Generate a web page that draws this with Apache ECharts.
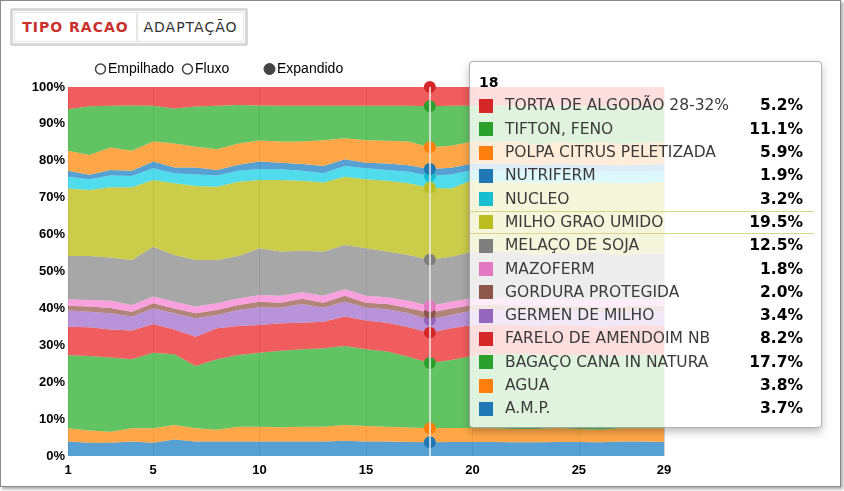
<!DOCTYPE html>
<html><head><meta charset="utf-8">
<script src="https://cdn.jsdelivr.net/npm/echarts@6/dist/echarts.min.js"></script>
<style>
html,body{margin:0;padding:0;background:#fff;width:844px;height:491px;overflow:hidden}
#frame{position:absolute;left:0;top:0;width:839px;height:485px;border:1px solid #8a8a8a;box-shadow:2px 2px 3px rgba(0,0,0,0.35);background:#fff}
#chart{position:absolute;left:0;top:0;width:844px;height:491px}
#btns{position:absolute;left:10px;top:8px;width:238px;height:38px;box-sizing:border-box;border:3px solid #d9d9d9;border-radius:2px;background:#fff;display:flex;padding:1px;font-family:'DejaVu Sans',sans-serif;font-size:14px;z-index:5}
#btns div{box-sizing:border-box;height:30px;line-height:28px;text-align:center;border:1px solid #e6e6e6;letter-spacing:1px}
#b1{width:123px;color:#c9302c;font-weight:bold}
#b2{width:107px;color:#333}
</style></head>
<body>
<div id="frame"></div>
<div id="chart"></div>
<div id="btns"><div id="b1">TIPO RACAO</div><div id="b2">ADAPTAÇÃO</div></div>
<script>
const days = ['1','2','3','4','5','6','7','8','9','10','11','12','13','14','15','16','17','18','19','20','21','22','23','24','25','26','27','28','29'];
const xTickLabels = ['1','5','10','15','20','25','29'];

const AMP       = [3.9,3.6,3.6,3.9,3.6,4.5,3.9,3.9,3.9,3.9,3.9,3.9,3.9,4.1,3.9,3.9,3.8,3.7,3.8,3.8,3.8,3.7,3.7,3.8,3.8,3.7,3.9,3.9,3.8];
const AGUA      = [3.6,3.3,3.0,3.6,3.9,3.9,3.6,3.2,4.0,4.0,3.9,4.0,4.0,4.3,4.2,4.0,3.9,3.8,3.8,3.8,3.7,3.6,3.6,3.8,3.5,3.4,3.6,3.6,3.7];
const BAGACO    = [19.8,20.2,20.1,18.7,20.5,19.2,16.9,19.1,19.5,20.1,20.7,21.0,21.3,21.4,20.8,20.4,19.2,17.7,18.4,19.5,20.0,20.4,20.2,19.8,20.1,20.2,19.7,20.0,19.9];
const FARELO    = [7.7,7.8,7.6,7.8,7.8,6.7,7.9,8.4,7.8,7.5,7.5,7.2,7.2,8.0,7.8,7.8,8.0,8.2,8.6,8.4,8.0,7.8,7.6,8.2,7.9,7.7,8.1,8.0,7.8];
const GERMEN    = [4.4,4.2,4.4,3.8,4.2,4.4,5.0,3.6,4.4,4.8,4.2,5.1,3.8,4.0,3.5,3.7,3.8,3.4,3.6,3.9,4.0,3.9,4.1,3.8,3.9,4.0,3.8,3.9,3.9];
const GORDURA   = [1.3,1.4,1.4,1.3,1.4,1.3,1.4,1.4,1.3,1.5,1.3,1.4,1.3,1.6,1.3,1.4,1.4,2.0,1.8,1.5,1.4,1.4,1.5,1.4,1.5,1.4,1.5,1.4,1.5];
const MAZOFERM  = [1.8,1.8,2.0,1.8,1.8,1.8,1.8,1.8,1.8,1.8,1.9,1.8,1.9,1.8,1.9,1.8,2.0,1.8,1.8,1.8,1.8,1.9,1.8,1.7,1.8,1.9,1.8,1.7,1.8];
const MELACO    = [11.7,11.9,11.7,12.2,13.5,12.7,12.6,11.7,11.5,12.7,12.0,11.2,12.0,12.0,12.9,12.4,12.4,12.5,12.2,12.7,12.5,12.8,12.0,12.6,12.3,12.9,12.1,12.4,12.5];
const MILHO     = [18.3,17.9,19.0,19.7,18.1,19.4,20.1,19.9,20.1,18.5,19.4,19.0,18.7,18.5,18.7,19.2,19.4,19.5,18.5,19.4,19.2,18.8,19.6,19.0,19.3,18.9,19.5,19.1,19.4];
const NUCLEO    = [3.2,2.9,3.2,3.1,3.2,2.7,3.1,3.0,3.0,3.0,2.9,2.7,2.5,2.9,3.0,2.9,3.1,3.2,3.8,2.7,3.0,3.1,2.9,3.2,3.0,3.1,3.0,3.1,3.0];
const NUTRIFERM = [1.6,1.2,1.5,1.4,1.8,1.6,1.9,1.5,1.6,2.0,1.8,1.8,2.0,1.8,1.5,1.8,1.8,1.9,1.8,1.8,1.8,1.7,1.9,1.8,1.9,1.7,1.8,1.9,1.8];
const POLPA     = [5.4,5.4,6.1,5.4,5.4,6.5,5.6,5.6,5.8,5.7,5.7,6.1,7.0,5.7,6.1,6.1,6.4,5.9,6.0,5.9,5.8,6.2,5.6,6.0,5.7,6.1,5.8,5.9,6.0];
const TIFTON    = [11.3,13.2,11.3,12.3,9.7,9.5,10.9,11.8,10.4,9.5,9.7,9.7,9.3,8.8,9.3,9.5,9.7,11.1,10.8,9.7,10.0,9.6,10.3,9.9,10.2,9.8,10.4,10.0,9.9];
const TORTA     = [6.0,5.2,5.1,5.0,5.1,5.8,5.3,5.1,4.9,5.0,5.1,5.1,5.1,5.1,5.1,5.1,5.1,5.2,5.1,5.1,5.0,5.1,5.2,5.0,5.1,5.2,5.0,5.1,5.0];

const seriesNames = ['A.M.P.','AGUA','BAGAÇO CANA IN NATURA','FARELO DE AMENDOIM NB','GERMEN DE MILHO','GORDURA PROTEGIDA','MAZOFERM','MELAÇO DE SOJA','MILHO GRAO UMIDO','NUCLEO','NUTRIFERM','POLPA CITRUS PELETIZADA','TIFTON, FENO','TORTA DE ALGODÃO 28-32%'];
const seriesValues = [AMP,AGUA,BAGACO,FARELO,GERMEN,GORDURA,MAZOFERM,MELACO,MILHO,NUCLEO,NUTRIFERM,POLPA,TIFTON,TORTA];
const colors = ['#1f77b4','#ff7f0e','#2ca02c','#d62728','#9467bd','#8c564b','#e377c2','#7f7f7f','#bcbd22','#17becf','#1f77b4','#ff7f0e','#2ca02c','#d62728'];
const areaColors = ['#1f77b4','#ff7f0e','#2ca02c','#d62728','#9467bd','#8c564b','#e377c2','#7f7f7f','#abab12','#17becf','#1f77b4','#ff7f0e','#2ca02c','#d62728'];
const hoverIndex = 17;
const hoverSeries = 'MILHO GRAO UMIDO';

// expanded mode: normalise each day to 100%
const totals = days.map((d,i)=>seriesValues.reduce((s,a)=>s+a[i],0));
const series = seriesNames.map((n,k)=>({
  name:n, type:'line', stack:'total', clip:false,
  data: seriesValues[k].map((v,i)=>v/totals[i]*100),
  showSymbol:false, symbol:'circle', symbolSize:12,
  lineStyle:{width:0}, itemStyle:{color:colors[k]},
  areaStyle:{color:areaColors[k], opacity:0.76},
  emphasis:{scale:false, focus:'none', lineStyle:{width:0}, areaStyle:{opacity:0.76}},
  animation:false
}));

const chart = echarts.init(document.getElementById('chart'), null, {renderer:'canvas'});
const tickFn = (idx, val) => xTickLabels.indexOf(String(val)) >= 0;
chart.setOption({
  animation:false,
  backgroundColor:'transparent',
  grid:{left:68, right:180, top:87, bottom:35},
  xAxis:{type:'category', data:days, boundaryGap:false,
    axisLine:{show:false}, axisTick:{show:false},
    axisLabel:{interval:tickFn, fontWeight:'bold', fontSize:13, color:'#000', fontFamily:'Liberation Sans', margin:8},
    splitLine:{show:true, interval:tickFn, lineStyle:{color:'#d2d2d2', width:1}}},
  yAxis:{type:'value', min:0, max:100, interval:10,
    axisLine:{show:false}, axisTick:{show:false}, splitLine:{show:false},
    axisLabel:{formatter:'{value}%', fontWeight:'bold', fontSize:13, color:'#000', fontFamily:'Liberation Sans', margin:3}},
  tooltip:{
    trigger:'axis', triggerOn:'none', alwaysShowContent:true, transitionDuration:0,
    axisPointer:{type:'line', lineStyle:{color:'#eeeeee', width:1.5, type:'solid'}},
    backgroundColor:'rgba(255,255,255,0.8)', borderColor:'rgba(0,0,0,0.3)', borderWidth:1, padding:0,
    extraCssText:'box-shadow:0 4px 8px rgba(0,0,0,0.25);border-radius:4px;',
    position:[469,61],
    formatter:function(params){
      const idx = params[0].dataIndex;
      let h = '<div style="font-family:\'DejaVu Sans\',sans-serif;width:351px;height:365px;position:relative;">';
      h += '<div style="position:absolute;left:9px;top:10px;font-weight:bold;font-size:14px;line-height:20px;color:#000">'+days[idx]+'</div>';
      for (let r=0;r<seriesNames.length;r++){
        const si = seriesNames.length-1-r;
        const top = 32.4 + r*23.3;
        const hl = seriesNames[si]===hoverSeries;
        h += '<div style="position:absolute;left:0;top:'+top+'px;width:344px;height:23.3px;'+(hl?'border-top:1px solid #d6d68a;border-bottom:1px solid #d6d68a;box-sizing:border-box;':'')+'">';
        h += '<span style="position:absolute;left:9px;top:'+(hl?3.6:4.6)+'px;width:14px;height:14px;background:'+colors[si]+'"></span>';
        h += '<span style="position:absolute;left:35px;top:'+(hl?-1:0)+'px;line-height:23.3px;font-size:15.5px;color:#3a3a3a">'+seriesNames[si]+'</span>';
        h += '<span style="position:absolute;right:11px;top:'+(hl?-1:0)+'px;line-height:23.3px;font-size:15.5px;font-weight:bold;color:#000">'+seriesValues[si][idx].toFixed(1)+'%</span>';
        h += '</div>';
      }
      h += '</div>';
      return h;
    }
  },
  graphic:[
    {type:'circle', shape:{cx:100.5, cy:69, r:5}, style:{fill:'#fff', stroke:'#444', lineWidth:1.5}},
    {type:'text', x:108, y:69, style:{text:'Empilhado', font:'14px "Liberation Sans"', fill:'#000', verticalAlign:'middle'}},
    {type:'circle', shape:{cx:187.5, cy:69, r:5}, style:{fill:'#fff', stroke:'#444', lineWidth:1.5}},
    {type:'text', x:195, y:69, style:{text:'Fluxo', font:'14px "Liberation Sans"', fill:'#000', verticalAlign:'middle'}},
    {type:'circle', shape:{cx:269.5, cy:69, r:5.5}, style:{fill:'#444', stroke:'#444', lineWidth:1}},
    {type:'text', x:277, y:69, style:{text:'Expandido', font:'14px "Liberation Sans"', fill:'#000', verticalAlign:'middle'}}
  ],
  series:series
});
chart.dispatchAction({type:'showTip', seriesIndex:0, dataIndex:hoverIndex});
</script>
</body></html>
